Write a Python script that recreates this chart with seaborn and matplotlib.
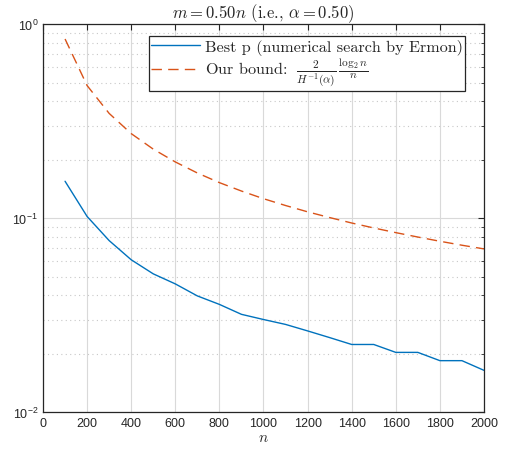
import matplotlib
matplotlib.use("Agg")
import matplotlib.pyplot as plt
import seaborn as sns
import pandas as pd
import numpy as np
from matplotlib.ticker import LogLocator, NullFormatter, FixedLocator
from matplotlib.lines import Line2D

n_values = [100, 200, 300, 400, 500, 600, 700, 800, 900, 1000,
            1100, 1200, 1300, 1400, 1500, 1600, 1700, 1800, 1900, 2000]
best_p = [0.155, 0.102, 0.0766, 0.061, 0.0516, 0.0458, 0.0397, 0.0359, 0.0319, 0.0300,
          0.0283, 0.0262, 0.0242, 0.0223, 0.0223, 0.0203, 0.0203, 0.0184, 0.0184, 0.0164]
our_bound = [0.840, 0.483, 0.347, 0.273, 0.227, 0.195, 0.171, 0.1525, 0.138, 0.126,
             0.1162, 0.1078, 0.1007, 0.0944, 0.0890, 0.0842, 0.0799, 0.0760, 0.0725, 0.0694]
x_ticks = [0, 200, 400, 600, 800, 1000, 1200, 1400, 1600, 1800, 2000]

label_best = "Best p (numerical search by Ermon)"
label_bound = r"Our bound: $\;\frac{2}{H^{-1}(\alpha)}\,\frac{\log_2 n}{n}$"

sns.set_style("white")
plt.rcParams["mathtext.fontset"] = "cm"
plt.rcParams["font.family"] = ["Liberation Sans", "DejaVu Sans"]

df = pd.DataFrame({
    "n": n_values * 2,
    "value": best_p + our_bound,
    "series": [label_best] * len(n_values) + [label_bound] * len(n_values),
})

fig = plt.figure(figsize=(5.06, 4.52), dpi=100)
ax = fig.add_axes([0.085, 0.0863, 0.8715, 0.8577])

blue = "#0072BD"
red = "#D95319"
dash = (7.5, 4.5)
sns.lineplot(data=df, x="n", y="value", hue="series", style="series",
             palette={label_best: blue, label_bound: red},
             dashes={label_best: "", label_bound: dash},
             linewidth=1.0, ax=ax, legend=False)

ax.set_yscale("log")
ax.set_xlim(0, 2000)
ax.set_ylim(1e-2, 1e0)
ax.xaxis.set_major_locator(FixedLocator(x_ticks))
ax.yaxis.set_major_locator(LogLocator(base=10, numticks=10))
ax.yaxis.set_minor_locator(LogLocator(base=10, subs=np.arange(2, 10), numticks=20))
ax.yaxis.set_minor_formatter(NullFormatter())

ax.grid(True, which="major", axis="both", color="#d9d9d9", linewidth=0.8, linestyle="-")
ax.grid(True, which="minor", axis="y", color="#c8c8c8", linewidth=0.8, linestyle=(0, (1, 3)))
ax.set_axisbelow(True)

for sp in ax.spines.values():
    sp.set_color("#262626")
    sp.set_linewidth(0.9)
    sp.set_visible(True)

ax.tick_params(which="both", direction="in", top=True, right=True, colors="#262626",
               labelsize=9, labelcolor="#262626")
ax.tick_params(which="major", length=4)
ax.tick_params(which="minor", length=2.5, bottom=False, top=False)

ax.set_xlabel("$n$", fontsize=11, labelpad=1)
ax.set_ylabel("")
ax.set_title(r"$m = 0.50n$ (i.e., $\alpha = 0.50$)", fontsize=12, family="cmr10", pad=5)

handles = [Line2D([], [], color=blue, linewidth=1.0),
           Line2D([], [], color=red, linewidth=1.0, linestyle=(0, dash))]
leg = ax.legend(handles, [label_best, label_bound], loc="upper right",
                bbox_to_anchor=(0.957, 0.969), borderaxespad=0, fancybox=False,
                framealpha=1, edgecolor="#262626", prop={"family": "cmr10", "size": 11.7},
                handlelength=3.0, handletextpad=0.3, borderpad=0.15, labelspacing=0.1)
leg.get_frame().set_linewidth(0.9)

fig.savefig("out.png", dpi=100)
